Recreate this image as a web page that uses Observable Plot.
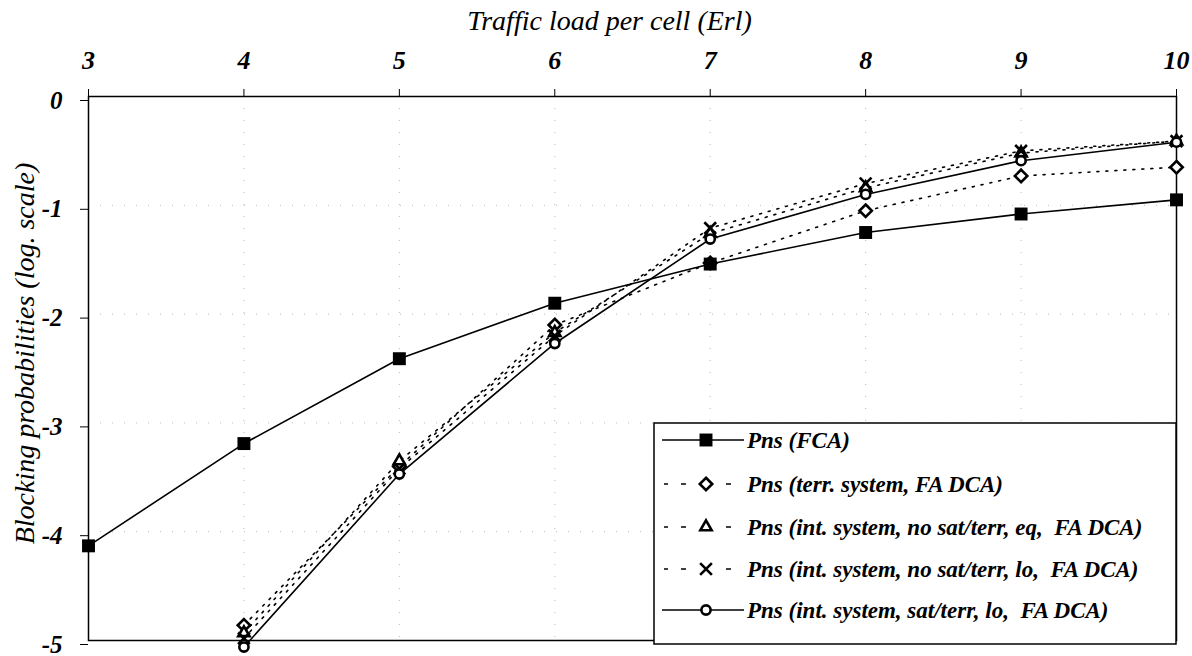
<!DOCTYPE html>
<html>
<head>
<meta charset="utf-8">
<script src="https://cdn.jsdelivr.net/npm/d3@7"></script>
<script src="https://cdn.jsdelivr.net/npm/@observablehq/plot@0.6"></script>
<style>
  body { margin: 0; background: #fff; }
  #chart { width: 1192px; height: 656px; }
</style>
</head>
<body>
<div id="chart"></div>
<script>
// Traffic load per cell (Erl)
const loads = [3, 4, 5, 6, 7, 8, 9, 10];
const dcaLoads = [4, 5, 6, 7, 8, 9, 10];

// log10 of the blocking probability for each scheme
const fca      = [-4.13, -3.19, -2.41, -1.90, -1.54, -1.25, -1.08, -0.95];
const terr     = [-4.86, -3.40, -2.10, -1.53, -1.05, -0.73, -0.65];
const intEq    = [-4.93, -3.35, -2.17, -1.26, -0.84, -0.52, -0.41];
const intLo    = [-4.98, -3.42, -2.20, -1.21, -0.80, -0.50, -0.41];
const intSatLo = [-5.06, -3.47, -2.27, -1.31, -0.90, -0.59, -0.42];

const seriesNames = [
  "Pns (FCA)",
  "Pns (terr. system, FA DCA)",
  "Pns (int. system, no sat/terr, eq,  FA DCA)",
  "Pns (int. system, no sat/terr, lo,  FA DCA)",
  "Pns (int. system, sat/terr, lo,  FA DCA)"
];

const xTicks = [3, 4, 5, 6, 7, 8, 9, 10];
const yTicks = [0, -1, -2, -3, -4, -5];

const xTitle = "Traffic load per cell (Erl)";
const yTitle = "Blocking probabilities (log. scale)";

const FONT = "'Liberation Serif', 'DejaVu Serif', serif";

// marker and line style per series
const series = [
  {name: seriesNames[0], xs: loads,    ys: fca,      symbol: "square",   r: 7.3, fill: "black", dash: null},
  {name: seriesNames[1], xs: dcaLoads, ys: terr,     symbol: "diamond2", r: 5.6, fill: "white", dash: "2,7"},
  {name: seriesNames[2], xs: dcaLoads, ys: intEq,    symbol: "triangle2",r: 5.4, fill: "white", dash: "2,7"},
  {name: seriesNames[3], xs: dcaLoads, ys: intLo,    symbol: "times",    r: 5.4, fill: "none",  dash: "2,7"},
  {name: seriesNames[4], xs: dcaLoads, ys: intSatLo, symbol: "circle",   r: 4.6, fill: "white", dash: null}
];
series.forEach(s => { s.rows = s.xs.map((x, i) => ({x, y: s.ys[i], name: s.name})); });

const marks = [
  Plot.ruleX(xTicks.slice(1, -1), {stroke: "#b8b8b8", strokeDasharray: "1,11", strokeWidth: 1}),
  Plot.ruleY(yTicks.slice(1, -1), {stroke: "#b8b8b8", strokeDasharray: "1,11", strokeWidth: 1}),
  Plot.frame({stroke: "black", strokeWidth: 1.5}),
  Plot.axisX({anchor: "top", ticks: xTicks, tickSize: 8, tickPadding: 20, label: null,
              tickFormat: d => String(d), fontSize: 26}),
  Plot.axisY({anchor: "left", ticks: yTicks, tickSize: 8, tickPadding: 18, label: null, dy: 4,
              tickFormat: d => d === 0 ? "0" : "-" + Math.abs(d), fontSize: 25}),
  Plot.text([xTitle], {frameAnchor: "top", textAnchor: "middle", lineAnchor: "middle",
                       dx: -23, dy: -75, fontSize: 28, fontWeight: "normal"}),
  Plot.text([yTitle], {frameAnchor: "left", textAnchor: "middle", lineAnchor: "middle", rotate: -90,
                       dx: -63, dy: -15, fontSize: 28, fontWeight: "normal"})
];

for (const s of series) {
  marks.push(Plot.line(s.rows, {x: "x", y: "y", stroke: "black", strokeWidth: 1.6,
                                strokeDasharray: s.dash ?? undefined}));
}
// open markers first, filled FCA squares on top
for (const s of [...series.slice(1), series[0]]) {
  marks.push(Plot.dot(s.rows, {x: "x", y: "y", symbol: () => s.symbol, r: s.r,
                               fill: s.fill, stroke: s.symbol === "square" ? "none" : "black",
                               strokeWidth: s.symbol === "square" ? 0 : 2.6}));
}

const chart = Plot.plot({
  width: 1192,
  height: 656,
  marginLeft: 88,
  marginRight: 16,
  marginTop: 96,
  marginBottom: 16,
  x: {domain: [3, 10]},
  y: {domain: [-5, 0]},
  style: {fontFamily: FONT, fontStyle: "italic", fontWeight: "bold", color: "black", background: "white", overflow: "visible"},
  marks
});
document.getElementById("chart").appendChild(chart);

// Legend box drawn in the lower right corner of the plot area
const svg = d3.select(chart);
const lg = svg.append("g").attr("class", "legend");
const box = {x: 654, y: 423, w: 522, h: 221};
lg.append("rect").attr("x", box.x).attr("y", box.y).attr("width", box.w).attr("height", box.h)
  .attr("fill", "white").attr("stroke", "black").attr("stroke-width", 1.5);

const symbolTypes = {
  square: d3.symbolSquare, diamond2: d3.symbolDiamond2, triangle2: d3.symbolTriangle2,
  times: d3.symbolTimes, circle: d3.symbolCircle
};
const rowY = [440, 484, 527, 569, 610];
series.forEach((s, i) => {
  const y = rowY[i];
  const mx = 706;
  if (s.dash) {
    for (const [a, b] of [[664, 668], [681, 686], [726, 731]]) {
      lg.append("line").attr("x1", a).attr("x2", b).attr("y1", y).attr("y2", y)
        .attr("stroke", "black").attr("stroke-width", 1.5);
    }
  } else {
    lg.append("line").attr("x1", 662).attr("x2", 744).attr("y1", y).attr("y2", y)
      .attr("stroke", "black").attr("stroke-width", 1.6);
  }
  lg.append("path")
    .attr("transform", `translate(${mx},${y})`)
    .attr("d", d3.symbol(symbolTypes[s.symbol], Math.PI * s.r * s.r)())
    .attr("fill", s.fill)
    .attr("stroke", s.symbol === "square" ? "none" : "black")
    .attr("stroke-width", s.symbol === "square" ? 0 : 2.6);
  lg.append("text").attr("x", 747).attr("y", y + 8)
    .attr("text-anchor", "start")
    .attr("font-size", 23).attr("font-family", FONT).attr("font-style", "italic").attr("font-weight", "bold")
    .attr("xml:space", "preserve").style("white-space", "pre")
    .text(s.name);
});
</script>
</body>
</html>
